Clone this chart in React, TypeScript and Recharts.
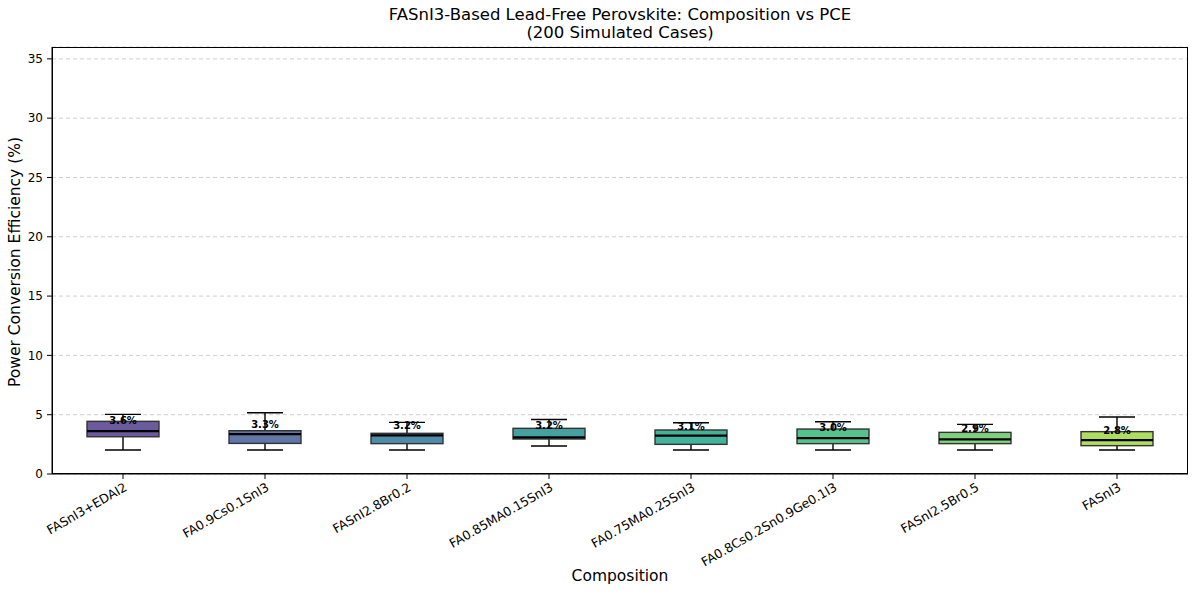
import React from 'react';
import { ComposedChart, Bar, XAxis, YAxis, CartesianGrid } from 'recharts';

const categories = [
  'FASnI3+EDAI2',
  'FA0.9Cs0.1SnI3',
  'FASnI2.8Br0.2',
  'FA0.85MA0.15SnI3',
  'FA0.75MA0.25SnI3',
  'FA0.8Cs0.2Sn0.9Ge0.1I3',
  'FASnI2.5Br0.5',
  'FASnI3',
];
const whiskerLow = [2.02, 2.02, 2.02, 2.36, 2.02, 2.02, 2.02, 2.02];
const q1 = [3.14, 2.58, 2.56, 2.95, 2.5, 2.56, 2.56, 2.39];
const median = [3.62, 3.37, 3.26, 3.09, 3.23, 3.03, 2.92, 2.86];
const q3 = [4.44, 3.65, 3.43, 3.85, 3.71, 3.79, 3.51, 3.57];
const whiskerHigh = [5.03, 5.17, 4.35, 4.6, 4.32, 4.41, 4.18, 4.8];
const means = [3.62, 3.31, 3.19, 3.22, 3.09, 3.04, 2.93, 2.83];
const colors = ['#6b5b9e', '#6077a8', '#4f8caa', '#46a0a0', '#45b29b', '#55c38d', '#80d27e', '#b0dd5e'];
const yTicks = [0, 5, 10, 15, 20, 25, 30, 35];

const data = categories.map((name, i) => ({
  name,
  low: whiskerLow[i],
  q1: q1[i],
  median: median[i],
  q3: q3[i],
  high: whiskerHigh[i],
  mean: means[i],
  color: colors[i],
}));

const FONT = '"DejaVu Sans", sans-serif';

const BoxShape = (props: any) => {
  const { x, y, width, height, payload } = props;
  if (payload == null) return null;
  const top = Math.min(y, y + height);
  const h = Math.abs(height);
  const ppu = h / (payload.high - payload.low);
  const py = (v: number) => top + (payload.high - v) * ppu;
  const cx = x + width / 2;
  const capHalf = width / 4;
  const yQ1 = py(payload.q1);
  const yQ3 = py(payload.q3);
  const yMed = py(payload.median);
  const yHi = py(payload.high);
  const yLo = py(payload.low);
  const yLab = py(payload.mean + 0.5) - 1;
  return (
    <g>
      <line x1={cx} x2={cx} y1={yHi} y2={yQ3} stroke="#000" strokeWidth={1.4} />
      <line x1={cx} x2={cx} y1={yQ1} y2={yLo} stroke="#000" strokeWidth={1.4} />
      <line x1={cx - capHalf} x2={cx + capHalf} y1={yHi} y2={yHi} stroke="#000" strokeWidth={1.4} />
      <line x1={cx - capHalf} x2={cx + capHalf} y1={yLo} y2={yLo} stroke="#000" strokeWidth={1.4} />
      <rect x={x} y={yQ3} width={width} height={yQ1 - yQ3} fill={payload.color} stroke="#333" strokeWidth={1.4} />
      <line x1={x} x2={x + width} y1={yMed} y2={yMed} stroke="#000" strokeWidth={2.2} />
      <text x={cx} y={yLab} textAnchor="middle" fontFamily={FONT} fontSize={10} fontWeight="bold" fill="#000">
        {payload.mean.toFixed(1)}%
      </text>
    </g>
  );
};

const XTick = (props: any) => {
  const { x, y, payload } = props;
  return (
    <g transform={`translate(${x},${y})`}>
      <text
        x={0}
        y={0}
        dy={10}
        dx={0}
        transform="rotate(-30)"
        textAnchor="end"
        fontFamily={FONT}
        fontSize={12.5}
        fill="#000"
      >
        {payload.value}
      </text>
    </g>
  );
};

export default function App() {
  return (
    <div style={{ position: 'absolute', left: 0, top: 0, width: 1200, height: 595, background: '#fff', fontFamily: FONT }}>
      <div style={{ position: 'absolute', left: 52, width: 1136, top: 6, textAlign: 'center', fontSize: 16.5, lineHeight: '18px', color: '#000' }}>
        FASnI3-Based Lead-Free Perovskite: Composition vs PCE
        <br />
        (200 Simulated Cases)
      </div>
      <div style={{ position: 'absolute', left: 560, width: 120, top: 567, textAlign: 'center', fontSize: 15.5, color: '#000' }}>
        Composition
      </div>
      <div
        style={{
          position: 'absolute',
          left: 15,
          top: 262,
          transform: 'translate(-50%, -50%) rotate(-90deg)',
          whiteSpace: 'nowrap',
          fontSize: 15.5,
          color: '#000',
        }}
      >
        Power Conversion Efficiency (%)
      </div>
      <ComposedChart
        width={1200}
        height={595}
        data={data}
        margin={{ top: 47, right: 12, bottom: 61, left: 0 }}
        barCategoryGap={0}
        style={{ position: 'absolute', left: 0, top: 0 }}
      >
        <CartesianGrid vertical={false} stroke="#d0d0d0" strokeDasharray="4 3" />
        <XAxis
          dataKey="name"
          height={60}
          interval={0}
          tick={<XTick />}
          tickSize={5}
          tickLine={{ stroke: '#000' }}
          axisLine={{ stroke: '#000', strokeWidth: 1 }}
        />
        <YAxis
          domain={[0, 36]}
          ticks={yTicks}
          width={52}
          tickSize={5}
          tickMargin={4}
          tickLine={{ stroke: '#000' }}
          axisLine={{ stroke: '#000', strokeWidth: 1 }}
          tick={{ fill: '#000', fontSize: 12, fontFamily: FONT }}
          allowDataOverflow
        />
        <Bar dataKey={(d: any) => [d.low, d.high]} barSize={72} shape={<BoxShape />} isAnimationActive={false} />
      </ComposedChart>
      <div
        style={{
          position: 'absolute',
          left: 52,
          top: 47,
          width: 1136,
          height: 427,
          boxSizing: 'border-box',
          border: '1px solid #000',
          pointerEvents: 'none',
        }}
      />
    </div>
  );
}
